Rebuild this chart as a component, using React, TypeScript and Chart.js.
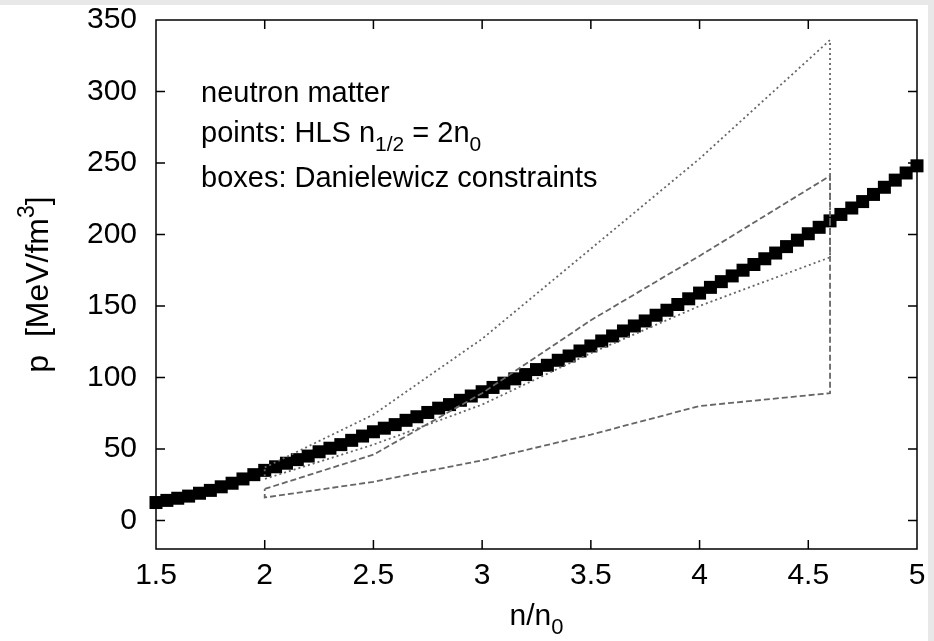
import React, { useEffect, useRef } from 'react';
import { Chart, registerables } from 'chart.js';

Chart.register(...registerables);

// ---- data ----
const densities = [
  1.5, 1.55, 1.6, 1.65, 1.7, 1.75, 1.8, 1.85, 1.9, 1.95,
  2.0, 2.05, 2.1, 2.15, 2.2, 2.25, 2.3, 2.35, 2.4, 2.45,
  2.5, 2.55, 2.6, 2.65, 2.7, 2.75, 2.8, 2.85, 2.9, 2.95,
  3.0, 3.05, 3.1, 3.15, 3.2, 3.25, 3.3, 3.35, 3.4, 3.45,
  3.5, 3.55, 3.6, 3.65, 3.7, 3.75, 3.8, 3.85, 3.9, 3.95,
  4.0, 4.05, 4.1, 4.15, 4.2, 4.25, 4.3, 4.35, 4.4, 4.45,
  4.5, 4.55, 4.6, 4.65, 4.7, 4.75, 4.8, 4.85, 4.9, 4.95,
  5.0,
];
const pressures = [
  12.5, 14, 15.5, 17, 19, 21, 23.5, 26, 29, 32,
  35, 37.5, 40, 42.5, 45, 48, 50.5, 53, 56, 59,
  62, 64.5, 67, 70, 72.5, 75.5, 78.5, 81, 84, 87,
  90, 93, 96, 99, 102, 105.5, 108.5, 112, 115, 118.5,
  122, 125.5, 129, 132.5, 136, 139.5, 143.5, 147, 151, 155,
  159, 163, 167, 171, 175, 179, 183, 187, 191.5, 196,
  200.5, 205, 209.5, 214, 218.5, 223, 228, 233, 238, 243,
  248,
];
const boxDensity = [2, 2.5, 3, 3.5, 4, 4.6];
const stiffUpper = [37, 74, 127, 190, 253, 336];
const stiffLower = [29, 53, 81, 117, 150, 184];
const softUpper = [22, 46, 89, 140, 185, 241];
const softLower = [16, 27, 42, 60, 80, 89];
const xTickValues = [1.5, 2, 2.5, 3, 3.5, 4, 4.5, 5];
const yTickValues = [0, 50, 100, 150, 200, 250, 300, 350];

const FONT = '"Liberation Sans", Arial, Helvetica, sans-serif';

function polygon(xs: number[], upper: number[], lower: number[]) {
  const pts = xs.map((x, i) => ({ x, y: upper[i] }));
  for (let i = xs.length - 1; i >= 0; i--) pts.push({ x: xs[i], y: lower[i] });
  pts.push({ x: xs[0], y: upper[0] });
  return pts;
}

type Run = { t: string; sub?: boolean; sup?: boolean };

function drawRich(ctx: CanvasRenderingContext2D, x: number, y: number, runs: Run[], size: number, measureOnly = false) {
  let cx = x;
  for (const r of runs) {
    const s = r.sub || r.sup ? Math.round(size * 0.72) : size;
    ctx.font = `${s}px ${FONT}`;
    const dy = r.sub ? size * 0.3 : r.sup ? -size * 0.45 : 0;
    if (!measureOnly) ctx.fillText(r.t, cx, y + dy);
    cx += ctx.measureText(r.t).width;
  }
  return cx - x;
}

const bgPlugin = {
  id: 'bgPlugin',
  beforeDraw(chart: any) {
    const { ctx, width, height } = chart;
    ctx.save();
    ctx.fillStyle = '#e8e8e8';
    ctx.fillRect(0, 0, width, height);
    ctx.fillStyle = '#ffffff';
    ctx.fillRect(0, 5, width - 6, height - 5);
    ctx.restore();
  },
};

const framePlugin = {
  id: 'framePlugin',
  afterDatasetsDraw(chart: any) {
    const { ctx, chartArea } = chart;
    const { left, right, top, bottom } = chartArea;
    const xs = chart.scales.x;
    const ys = chart.scales.y;
    const tl = 9;
    ctx.save();
    ctx.strokeStyle = '#000';
    ctx.lineWidth = 1.5;
    ctx.beginPath();
    ctx.rect(left, top, right - left, bottom - top);
    for (const v of xTickValues) {
      const px = xs.getPixelForValue(v);
      ctx.moveTo(px, bottom);
      ctx.lineTo(px, bottom - tl);
      ctx.moveTo(px, top);
      ctx.lineTo(px, top + tl);
    }
    for (const v of yTickValues) {
      const py = ys.getPixelForValue(v);
      ctx.moveTo(left, py);
      ctx.lineTo(left + tl, py);
      ctx.moveTo(right, py);
      ctx.lineTo(right - tl, py);
    }
    ctx.stroke();

    // annotations
    ctx.fillStyle = '#000';
    ctx.textBaseline = 'alphabetic';
    ctx.textAlign = 'left';
    const size = 29;
    const tx = left + 45;
    drawRich(ctx, tx, top + 82, [{ t: 'neutron matter' }], size);
    drawRich(ctx, tx, top + 122, [{ t: 'points: HLS n' }, { t: '1/2', sub: true }, { t: ' = 2n' }, { t: '0', sub: true }], size);
    drawRich(ctx, tx, top + 167, [{ t: 'boxes: Danielewicz constraints' }], size);

    // x title
    const xRuns: Run[] = [{ t: 'n/n' }, { t: '0', sub: true }];
    const xw = drawRich(ctx, 0, 0, xRuns, 30, true);
    drawRich(ctx, (left + right) / 2 - xw / 2, 625, xRuns, 30);

    // y title
    const yRuns: Run[] = [{ t: 'p  [MeV/fm' }, { t: '3', sup: true }, { t: ']' }];
    const ySize = 32;
    const yw = drawRich(ctx, 0, 0, yRuns, ySize, true);
    ctx.translate(48, (top + bottom) / 2);
    ctx.rotate(-Math.PI / 2);
    drawRich(ctx, -yw / 2, 0, yRuns, ySize);
    ctx.restore();
  },
};

export default function App() {
  const canvasRef = useRef<HTMLCanvasElement | null>(null);

  useEffect(() => {
    const canvas = canvasRef.current;
    if (!canvas) return;
    const chart = new Chart(canvas, {
      type: 'scatter',
      data: {
        datasets: [
          {
            label: 'stiff',
            data: polygon(boxDensity, stiffUpper, stiffLower),
            showLine: true,
            borderColor: '#666666',
            borderWidth: 1.8,
            borderDash: [2, 3],
            pointRadius: 0,
            fill: false,
            tension: 0,
          },
          {
            label: 'soft',
            data: polygon(boxDensity, softUpper, softLower),
            showLine: true,
            borderColor: '#666666',
            borderWidth: 1.8,
            borderDash: [6, 3],
            pointRadius: 0,
            fill: false,
            tension: 0,
          },
          {
            label: 'HLS',
            data: densities.map((x, i) => ({ x, y: pressures[i] })),
            showLine: false,
            pointStyle: 'rect',
            pointRadius: 9.2,
            pointBackgroundColor: '#000',
            pointBorderWidth: 0,
            backgroundColor: '#000',
            borderColor: '#000',
            clip: false,
          } as any,
        ],
      },
      options: {
        animation: false,
        responsive: false,
        events: [],
        layout: { padding: { left: 0, right: 17, top: 20, bottom: 0 } },
        plugins: { legend: { display: false }, tooltip: { enabled: false } },
        scales: {
          x: {
            type: 'linear',
            min: 1.5,
            max: 5,
            afterBuildTicks: (s: any) => {
              s.ticks = xTickValues.map((v) => ({ value: v }));
            },
            afterFit: (s: any) => {
              s.height = 641 - 549;
              s.paddingLeft = 0;
              s.paddingRight = 0;
            },
            grid: { display: false, drawTicks: false },
            border: { display: false },
            ticks: {
              color: '#000',
              font: { family: FONT, size: 30 },
              padding: 9,
              maxRotation: 0,
              autoSkip: false,
              callback: (v: any) => String(v),
            },
          },
          y: {
            type: 'linear',
            min: -20,
            max: 350,
            afterBuildTicks: (s: any) => {
              s.ticks = yTickValues.map((v) => ({ value: v }));
            },
            afterFit: (s: any) => {
              s.width = 156;
              s.paddingTop = 0;
              s.paddingBottom = 0;
            },
            grid: { display: false, drawTicks: false },
            border: { display: false },
            ticks: {
              color: '#000',
              font: { family: FONT, size: 30 },
              padding: 19,
              autoSkip: false,
              callback: (v: any) => String(v),
            },
          },
        },
      },
      plugins: [bgPlugin, framePlugin],
    });
    return () => chart.destroy();
  }, []);

  return (
    <div style={{ position: 'fixed', left: 0, top: 0, width: 934, height: 641 }}>
      <canvas ref={canvasRef} width={934} height={641} style={{ display: 'block', width: 934, height: 641 }} />
    </div>
  );
}
